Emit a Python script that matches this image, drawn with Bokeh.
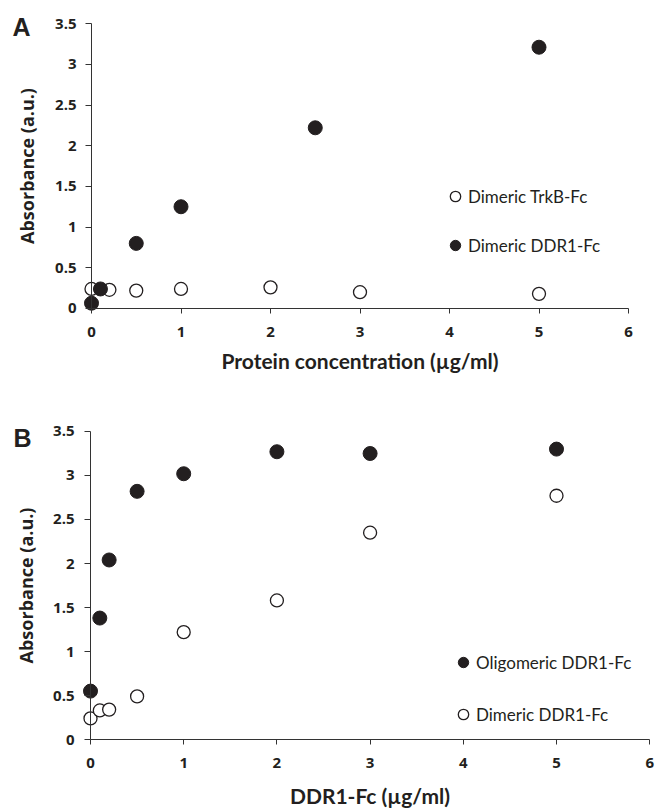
from bokeh.plotting import figure
from bokeh.layouts import column
from bokeh.models import Range1d, FixedTicker, Legend, LegendItem, Label, LinearAxis
from bokeh.embed import file_html
from bokeh.resources import INLINE

# ---------------- data ----------------
# Panel A
a_trkb_x = [0, 0.2, 0.5, 1, 2, 3, 5]
a_trkb_y = [0.24, 0.23, 0.22, 0.24, 0.26, 0.20, 0.18]
a_ddr1_x = [0, 0.1, 0.5, 1, 2.5, 5]
a_ddr1_y = [0.065, 0.24, 0.80, 1.25, 2.22, 3.21]

# Panel B
b_olig_x = [0, 0.1, 0.2, 0.5, 1, 2, 3, 5]
b_olig_y = [0.55, 1.38, 2.04, 2.82, 3.02, 3.27, 3.25, 3.30]
b_dim_x = [0, 0.1, 0.2, 0.5, 1, 2, 3, 5]
b_dim_y = [0.24, 0.33, 0.34, 0.49, 1.22, 1.58, 2.35, 2.77]

x_ticks = [0, 1, 2, 3, 4, 5, 6]
y_ticks = [0, 0.5, 1, 1.5, 2, 2.5, 3, 3.5]
y_tick_labels = ["0", "0.5", "1", "1.5", "2", "2.5", "3", "3.5"]

legend_a = ["Dimeric TrkB-Fc", "Dimeric DDR1-Fc"]
legend_b = ["Oligomeric DDR1-Fc", "Dimeric DDR1-Fc"]
x_label_a = "Protein concentration (\u00b5g/ml)"
x_label_b = "DDR1-Fc (\u00b5g/ml)"
y_label = "Absorbance (a.u.)"
panel_letters = ["A", "B"]

INK = "#231f20"
AXIS = "#333333"
FONT = "Lato"
TICK_FONT = "Open Sans"


def make_fig(height, xr, yr, xl_std, xal_std, yl_std, yal_std):
    p = figure(width=657, height=height, x_range=Range1d(*xr), y_range=Range1d(*yr),
               output_backend="svg", toolbar_location=None,
               x_axis_location=None, y_axis_location=None, min_border=0)
    p.outline_line_color = None
    p.background_fill_color = "white"
    p.border_fill_color = "white"
    p.xgrid.visible = False
    p.ygrid.visible = False

    xa = LinearAxis(fixed_location=0, bounds=(x_ticks[0], x_ticks[-1]),
                    ticker=FixedTicker(ticks=x_ticks))
    xa.axis_line_color = AXIS
    xa.major_tick_line_color = AXIS
    xa.major_tick_out = 5
    xa.major_tick_in = 0
    xa.minor_tick_line_color = None
    xa.major_label_standoff = xl_std
    xa.major_label_text_font = TICK_FONT
    xa.major_label_text_font_style = "bold"
    xa.major_label_text_font_size = "15px"
    xa.major_label_text_color = INK
    xa.axis_label_standoff = xal_std
    xa.axis_label_text_font = FONT
    xa.axis_label_text_font_style = "bold"
    xa.axis_label_text_font_size = "21px"
    xa.axis_label_text_color = INK
    p.add_layout(xa, "below")

    ya = LinearAxis(fixed_location=0, bounds=(y_ticks[0], y_ticks[-1]),
                    ticker=FixedTicker(ticks=y_ticks))
    ya.major_label_overrides = {t: s for t, s in zip(y_ticks, y_tick_labels)}
    ya.axis_line_color = AXIS
    ya.major_tick_line_color = AXIS
    ya.major_tick_out = 6
    ya.major_tick_in = 0
    ya.minor_tick_line_color = None
    ya.major_label_standoff = yl_std
    ya.major_label_text_font = TICK_FONT
    ya.major_label_text_font_style = "bold"
    ya.major_label_text_font_size = "15px"
    ya.major_label_text_color = INK
    ya.axis_label = y_label
    ya.axis_label_standoff = yal_std
    ya.axis_label_text_font = "Open Sans"
    ya.axis_label_text_font_style = "bold"
    ya.axis_label_text_font_size = "18px"
    ya.axis_label_text_color = INK
    p.add_layout(ya, "left")
    return p, xa, ya


def add_legend(p, items, loc, spacing):
    leg = Legend(items=items, location=loc, orientation="vertical",
                 glyph_width=26, glyph_height=26, label_height=26, spacing=spacing,
                 padding=0, margin=0, label_standoff=0,
                 border_line_color=None, background_fill_alpha=0,
                 label_text_font=FONT, label_text_font_size="17px",
                 label_text_color=INK)
    p.add_layout(leg)


def add_letter(p, text, x, y):
    p.add_layout(Label(x=x, y=y, x_units="screen", y_units="screen", text=text,
                       text_font="Liberation Sans", text_font_style="bold",
                       text_font_size="25px", text_color=INK,
                       text_align="left", text_baseline="alphabetic"))


# ---------------- Panel A ----------------
pA, xaA, yaA = make_fig(396, (-1.01676, 6.3240), (-1.0811, 3.7838), 14, 7, 9, 13)
xaA.axis_label = x_label_a
rA_open = pA.scatter(a_trkb_x, a_trkb_y, size=13, marker="circle",
                     fill_color="white", line_color=INK, line_width=1.3)
rA_fill = pA.scatter(a_ddr1_x, a_ddr1_y, size=14, marker="circle",
                     fill_color=INK, line_color=INK, line_width=1)
add_legend(pA, [LegendItem(label=legend_a[0], renderers=[rA_open]),
                LegendItem(label=legend_a[1], renderers=[rA_fill])], (442, 138), 23)
add_letter(pA, panel_letters[0], 12, 370)

# ---------------- Panel B ----------------
pB, xaB, yaB = make_fig(416, (-0.9657, 6.0837), (-0.8295, 3.8977), 13, 12, 10, 12)
xaB.axis_label = x_label_b
rB_fill = pB.scatter(b_olig_x, b_olig_y, size=14, marker="circle",
                     fill_color=INK, line_color=INK, line_width=1)
rB_open = pB.scatter(b_dim_x, b_dim_y, size=13, marker="circle",
                     fill_color="white", line_color=INK, line_width=1.3)
add_legend(pB, [LegendItem(label=legend_b[0], renderers=[rB_fill]),
                LegendItem(label=legend_b[1], renderers=[rB_open])], (450, 85), 26)
add_letter(pB, panel_letters[1], 13, 375)

layout = column(pA, pB, spacing=0)
open("out.html", "w").write(file_html(layout, INLINE))
